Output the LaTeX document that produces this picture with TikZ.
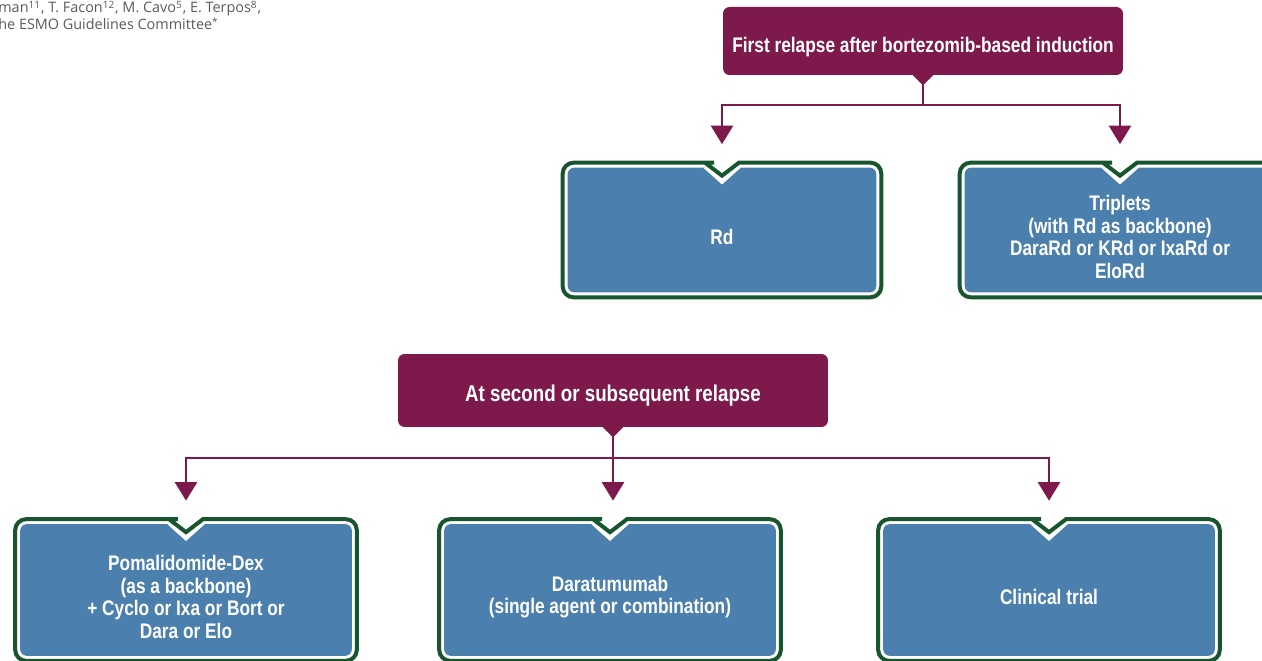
\documentclass[tikz,border=0pt]{standalone}
\usepackage{fontspec}
\setmainfont{Liberation Sans}
\newfontfamily\condfont[FakeStretch=0.82]{Liberation Sans}
\newfontfamily\authorfont{Open Sans}
\usetikzlibrary{arrows.meta,positioning,backgrounds}

\definecolor{relapsered}{HTML}{7D1A4B}
\definecolor{drugblue}{HTML}{4B80AE}
\definecolor{framegreen}{HTML}{17552E}
\definecolor{authorgray}{HTML}{5A5A5A}

\newcommand{\drugfont}{\condfont\bfseries\fontsize{12}{12.8}\selectfont}
\newcommand{\relapsefont}{\condfont\bfseries}

% notched outline: node, inset, notch half width, notch depth, corner radius
\newcommand{\notchedpath}[5]{%
  ([shift={(0,#4)}]#1.north) -- ([shift={(#3,#2)}]#1.north) -- ([shift={(#3+2,#2)}]#1.north)
  [rounded corners=#5] -- ([shift={(-#2,#2)}]#1.north east)
  -- ([shift={(-#2,-#2)}]#1.south east) -- ([shift={(#2,-#2)}]#1.south west)
  -- ([shift={(#2,#2)}]#1.north west) -- ([shift={(-#3-2,#2)}]#1.north)
  [sharp corners] -- ([shift={(-#3,#2)}]#1.north) -- cycle}

\begin{document}
\begin{tikzpicture}[x=0.02cm, y=-0.02cm,
    relapse/.style={rectangle, rounded corners=0.13cm, fill=relapsered, text=white, text height=13pt, text depth=0pt},
    drugbox/.style={rectangle, inner sep=0pt, minimum width=6.9cm, minimum height=2.9cm},
    drugtext/.style={text=white, align=center, font=\drugfont, yshift=-0.14cm},
    flow/.style={draw=relapsered, line width=0.05cm},
    flowarrow/.style={flow, -{Triangle[width=0.44cm,length=0.37cm]}, shorten >=0.33cm},
    author/.style={anchor=base west, inner sep=0pt, text=authorgray, font=\authorfont\fontsize{8.2}{9.6}\selectfont}
]
    \useasboundingbox (0,0) rectangle (1262,661);

    % authors line, cut at the left edge
    \node[author] (authors) at (-2,13) {man\textsuperscript{11}, T. Facon\textsuperscript{12}, M. Cavo\textsuperscript{5}, E. Terpos\textsuperscript{8},};
    \node[author] (committee) at (-2,30) {he ESMO Guidelines Committee\textsuperscript{*}};

    % relapse headers
    \node[relapse, minimum width=8cm, minimum height=1.36cm, font=\relapsefont\fontsize{12}{13}\selectfont] (first) at (923,41) {First relapse after bortezomib-based induction};
    \node[relapse, minimum width=8.6cm, minimum height=1.46cm, font=\relapsefont\fontsize{13}{14}\selectfont] (second) at (613,390.5) {At second or subsequent relapse};
    \foreach \n in {first,second} {
        \fill[relapsered] ([shift={(-11,-1)}]\n.south) -- ([shift={(11,-1)}]\n.south) -- ([shift={(0,10)}]\n.south) -- cycle;
    }

    % treatment boxes
    \node[drugbox, minimum width=6.44cm, minimum height=2.76cm, label={[drugtext]center:Rd}] (rd) at (722,230) {};
    \node[drugbox, minimum width=6.48cm, minimum height=2.76cm, label={[drugtext]center:{Triplets\\(with Rd as backbone)\\DaraRd or KRd or IxaRd or\\EloRd}}] (triplets) at (1120,230) {};
    \node[drugbox, label={[drugtext]center:{Pomalidomide-Dex\\(as a backbone)\\+ Cyclo or Ixa or Bort or\\Dara or Elo}}] (poma) at (186,590) {};
    \node[drugbox, label={[drugtext]center:{Daratumumab\\(single agent or combination)}}] (dara) at (610,590) {};
    \node[drugbox, label={[drugtext]center:Clinical trial}] (trial) at (1049,590) {};

    \begin{scope}[on background layer]
        \foreach \n in {rd,triplets,poma,dara,trial} {
            \fill[drugblue] \notchedpath{\n}{7}{19}{24}{0.13cm};
            \draw[framegreen, line width=0.08cm] \notchedpath{\n}{2}{17}{15}{0.22cm};
        }
    \end{scope}

    % connectors
    \coordinate (split1) at (923,105);
    \coordinate (split2) at (613,458);
    \draw[flow] (first.south) -- (split1);
    \draw[flowarrow] (split1) -| (rd.north);
    \draw[flowarrow] (split1) -| (triplets.north);
    \draw[flow] (second.south) -- (split2);
    \draw[flowarrow] (split2) -| (poma.north);
    \draw[flowarrow] (split2) -- (split2 |- dara.north);
    \draw[flowarrow] (split2) -| (trial.north);
\end{tikzpicture}
\end{document}
